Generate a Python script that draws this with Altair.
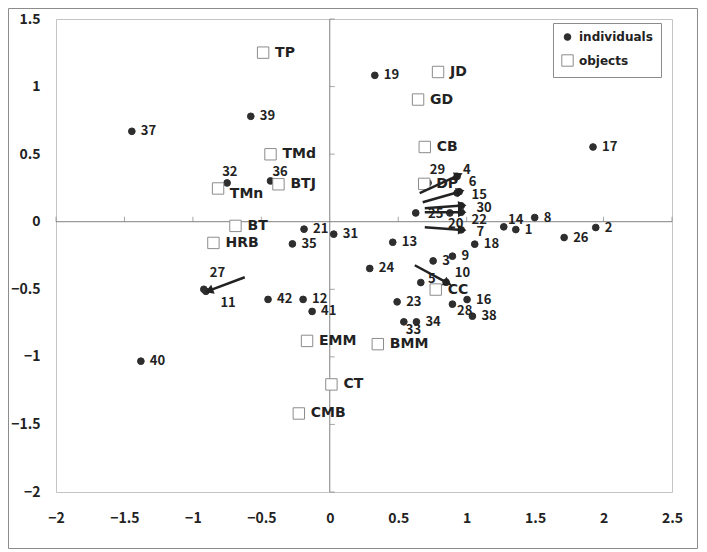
import altair as alt
import pandas as pd
import numpy as np

# ---------------- data ----------------
ind_ids = [str(i) for i in range(1, 43)]
ind_x = [1.359, 1.943, 0.755, 0.93, 0.665, 0.945, 0.96, 1.497, 0.896, 0.85,
         -0.905, -0.195, 0.460, 1.271, 0.93, 1.003, 1.923, 1.059, 0.329, 0.877,
         -0.188, 0.96, 0.492, 0.292, 0.628, 1.712, -0.92, 0.896, 0.718, 0.96,
         0.029, -0.750, 0.541, 0.633, -0.273, -0.433, -1.446, 1.042, -0.577, -1.38,
         -0.129, -0.451]
ind_y = [-0.058, -0.043, -0.290, 0.335, -0.450, 0.222, -0.060, 0.031, -0.255, -0.448,
         -0.515, -0.575, -0.152, -0.038, 0.213, -0.576, 0.553, -0.166, 1.083, 0.065,
         -0.055, 0.070, -0.593, -0.346, 0.065, -0.117, -0.50, -0.610, 0.287, 0.118,
         -0.092, 0.287, -0.741, -0.741, -0.164, 0.302, 0.669, -0.699, 0.780, -1.032,
         -0.664, -0.575]

# labels that were moved away from their points (label anchor, data units)
moved_ids = ["29", "4", "6", "15", "30", "22", "20", "7", "25", "10", "5", "28",
             "33", "27", "11", "32", "36", "14"]
moved_lx = [0.730, 0.974, 1.015, 1.035, 1.071, 1.035, 0.864, 1.071, 0.718, 0.913,
            0.718, 0.930, 0.555, -0.877, -0.799, -0.786, -0.419, 1.302]
moved_ly = [0.381, 0.381, 0.294, 0.196, 0.098, 0.011, -0.018, -0.075, 0.055, -0.383,
            -0.423, -0.657, -0.803, -0.383, -0.601, 0.368, 0.368, 0.011]

obj_names = ["TP", "JD", "GD", "CB", "TMd", "BTJ", "TMn", "DP", "BT", "HRB",
             "CC", "EMM", "BMM", "CT", "CMB"]
obj_x = [-0.487, 0.791, 0.645, 0.694, -0.433, -0.375, -0.816, 0.69, -0.689, -0.850,
         0.774, -0.166, 0.351, 0.012, -0.226]
obj_y = [1.251, 1.108, 0.904, 0.553, 0.499, 0.277, 0.246, 0.28, -0.031, -0.157,
         -0.502, -0.882, -0.906, -1.204, -1.419]
obj_moved = ["TMn"]
obj_moved_lx = [-0.730]
obj_moved_ly = [0.203]

# arrows (tail -> head), data units
arr_x1 = [0.657, 0.679, 0.694, 0.694, 0.694, 0.621, -0.621]
arr_y1 = [0.211, 0.144, 0.100, 0.070, -0.041, -0.322, -0.411]
arr_x2 = [0.972, 0.986, 1.001, 1.001, 1.001, 0.891, -0.913]
arr_y2 = [0.359, 0.233, 0.122, 0.070, -0.063, -0.470, -0.522]

x_ticks = [-2, -1.5, -1, -0.5, 0, 0.5, 1, 1.5, 2, 2.5]
y_ticks = [-2, -1.5, -1, -0.5, 0, 0.5, 1, 1.5]
categories = ["individuals", "objects"]

# ---------------- layout / style ----------------
W, H = 616, 473
XD, YD = [-2, 2.5], [-2, 1.5]
NUM_FONT = "Noto Sans CJK JP"
TXT = "#222222"

xs = alt.Scale(domain=XD, nice=False, zero=False)
ys = alt.Scale(domain=YD, nice=False, zero=False)
x_axis = alt.Axis(values=x_ticks, format="~g", ticks=False, domain=False, grid=False,
                  labelFont=NUM_FONT, labelFontSize=14, labelFontWeight="bold",
                  labelColor=TXT, labelPadding=19, labelFlush=False,
                  labelOverlap=False, title=None)
y_axis = alt.Axis(values=y_ticks, format="~g", ticks=False, domain=False, grid=False,
                  labelFont=NUM_FONT, labelFontSize=14, labelFontWeight="bold",
                  labelColor=TXT, labelPadding=16, labelFlush=False,
                  labelOverlap=False, title=None)
X = lambda f="x": alt.X(f"{f}:Q", scale=xs, axis=x_axis)
Y = lambda f="y": alt.Y(f"{f}:Q", scale=ys, axis=y_axis)

# ---------------- tables ----------------
ind = pd.DataFrame({"label": ind_ids, "x": ind_x, "y": ind_y, "type": "individuals"})
obj = pd.DataFrame({"label": obj_names, "x": obj_x, "y": obj_y, "type": "objects"})
pts = pd.concat([ind, obj], ignore_index=True)

ind_def = ind[~ind["label"].isin(moved_ids)]
ind_mov = pd.DataFrame({"label": moved_ids, "x": moved_lx, "y": moved_ly})
obj_def = obj[~obj["label"].isin(obj_moved)]
obj_mov = pd.DataFrame({"label": obj_moved, "x": obj_moved_lx, "y": obj_moved_ly})

arr = pd.DataFrame({"x": arr_x1, "y": arr_y1, "x2": arr_x2, "y2": arr_y2})
ppx, ppy = W / (XD[1] - XD[0]), H / (YD[1] - YD[0])
dxp = (arr["x2"] - arr["x"]) * ppx
dyp = (arr["y2"] - arr["y"]) * ppy
ln = np.hypot(dxp, dyp)
arr["angle"] = np.degrees(np.arctan2(dxp, dyp)) % 360
back = 4.5  # pixels: centre of the arrow head sits behind the tip
arr["hx"] = arr["x2"] - dxp / ln * back / ppx
arr["hy"] = arr["y2"] - dyp / ln * back / ppy

zero = pd.DataFrame({"x": [0], "y": [0]})
xt = pd.DataFrame({"x": [t for t in x_ticks if t != 0], "y": 0})
yt = pd.DataFrame({"y": [t for t in y_ticks if t != 0], "x": 0})

# ---------------- layers ----------------
frame = alt.Chart(pd.DataFrame({"a": [0]})).mark_rect(
    fillOpacity=0, stroke="#8c8c8c", strokeWidth=1
).encode(x=alt.value(-47.5), x2=alt.value(641.5), y=alt.value(-10.5), y2=alt.value(529.5))

vline = alt.Chart(zero).mark_rule(color="#808080", strokeWidth=1).encode(x=X())
hline = alt.Chart(zero).mark_rule(color="#808080", strokeWidth=1).encode(y=Y())
xticks = alt.Chart(xt).mark_tick(orient="vertical", size=5, thickness=1,
                                 color="#808080", yOffset=-2.5).encode(x=X(), y=Y())
yticks = alt.Chart(yt).mark_tick(orient="horizontal", size=5, thickness=1,
                                 color="#808080", xOffset=2.5).encode(x=X(), y=Y())

leg = alt.Legend(title=None, orient="none", legendX=497, legendY=4, padding=8,
                 strokeColor="#8c8c8c", fillColor="white", labelFont="DejaVu Sans",
                 labelFontSize=12, labelFontWeight="bold", labelColor=TXT,
                 rowPadding=9, labelOffset=5, symbolStrokeWidth=1, cornerRadius=0)
points = alt.Chart(pts).mark_point(filled=True, opacity=1, strokeWidth=1).encode(
    x=X(), y=Y(),
    shape=alt.Shape("type:N", scale=alt.Scale(domain=categories, range=["circle", "square"]), legend=leg),
    fill=alt.Fill("type:N", scale=alt.Scale(domain=categories, range=["#2e2e2e", "#ffffff"]), legend=leg),
    stroke=alt.Stroke("type:N", scale=alt.Scale(domain=categories, range=["#2e2e2e", "#8c8c8c"]), legend=leg),
    size=alt.Size("type:N", scale=alt.Scale(domain=categories, range=[45, 130]), legend=leg),
)

num_style = dict(font=NUM_FONT, fontSize=13, fontWeight="bold", color=TXT,
                 align="left", baseline="middle")
obj_style = dict(font="DejaVu Sans", fontSize=14, fontWeight="bold", color=TXT,
                 align="left", baseline="middle")
lab_ind = alt.Chart(ind_def).mark_text(dx=9, **num_style).encode(x=X(), y=Y(), text="label:N")
lab_ind_m = alt.Chart(ind_mov).mark_text(**num_style).encode(x=X(), y=Y(), text="label:N")
lab_obj = alt.Chart(obj_def).mark_text(dx=12, **obj_style).encode(x=X(), y=Y(), text="label:N")
lab_obj_m = alt.Chart(obj_mov).mark_text(**obj_style).encode(x=X(), y=Y(), text="label:N")

shafts = alt.Chart(arr).mark_rule(color="#222222", strokeWidth=2.5).encode(
    x=X(), y=Y(), x2="hx:Q", y2="hy:Q")
heads = alt.Chart(arr).mark_point(shape="triangle-up", filled=True, opacity=1,
                                  size=95, color="#222222").encode(
    x=X("hx"), y=Y("hy"), angle=alt.Angle("angle:Q", scale=None))

chart = alt.layer(
    frame, vline, hline, xticks, yticks, points,
    lab_ind, lab_ind_m, lab_obj, lab_obj_m, shafts, heads
).properties(
    width=W, height=H,
    padding={"left": 48, "top": 11, "right": 27, "bottom": 58},
    autosize=alt.AutoSizeParams(type="none"),
    background="white",
).configure_view(stroke="#c4c4c4", strokeWidth=1)

chart.save("out.html", embed_options={"renderer": "svg", "actions": False})
